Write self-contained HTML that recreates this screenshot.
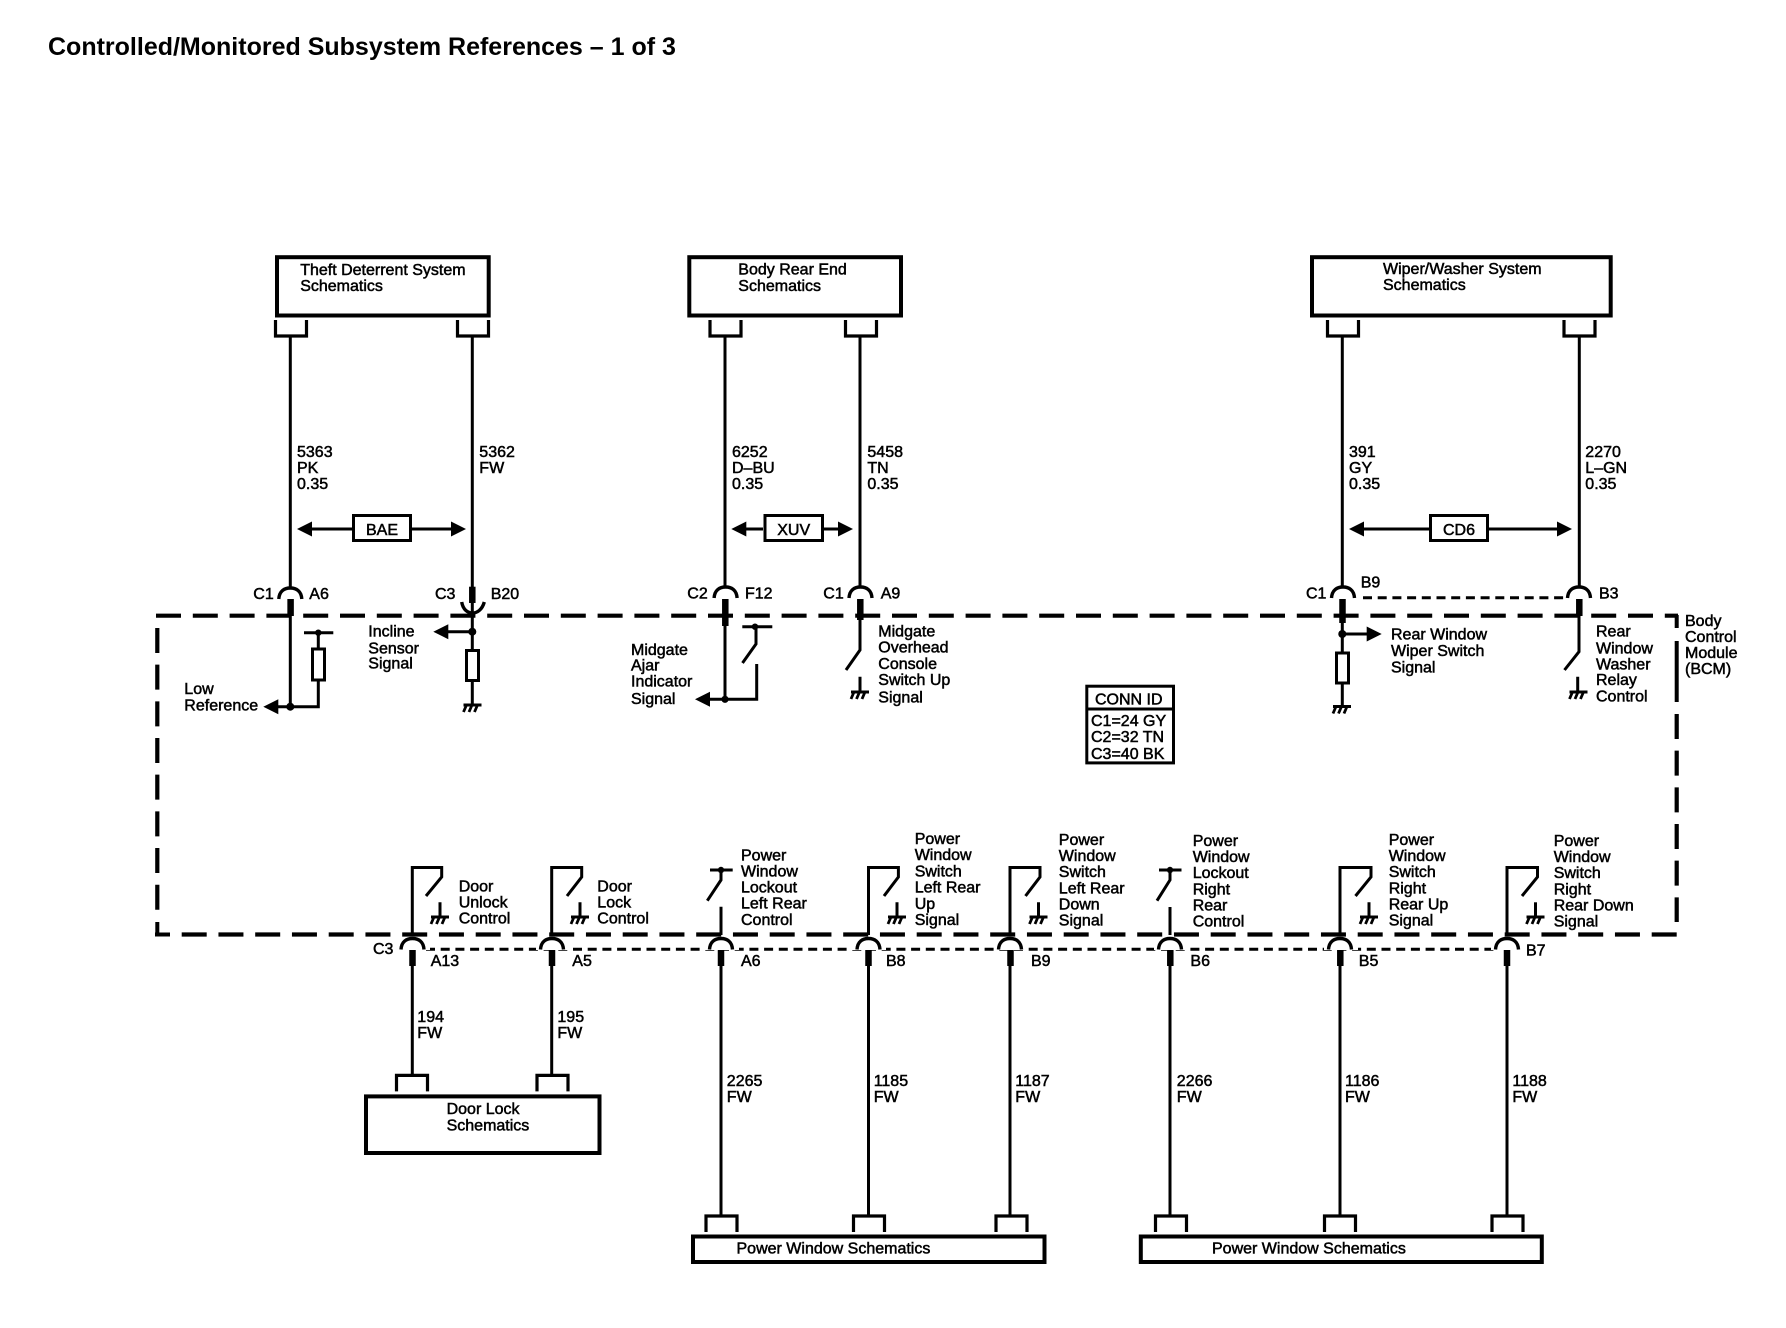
<!DOCTYPE html>
<html><head><meta charset="utf-8"><style>
html,body{margin:0;padding:0;background:#fff}
svg{display:block}
text{font-family:"Liberation Sans",sans-serif;font-size:16px;fill:#000;stroke:#000;stroke-width:.5px}
.t{font-size:25px;font-weight:bold;stroke:none}
.w{fill:none;stroke:#000;stroke-width:3}
.b{fill:none;stroke:#000;stroke-width:4}
.th{fill:none;stroke:#000;stroke-width:6.5}
.d{fill:none;stroke:#000;stroke-width:4.2;stroke-dasharray:25 11.75}
.dv{fill:none;stroke:#000;stroke-width:4.2;stroke-dasharray:25 11.67}
.p{fill:none;stroke:#000;stroke-width:3;stroke-dasharray:9 5.7}
</style></head><body>
<svg width="1786" height="1328" viewBox="0 0 1786 1328" xmlns="http://www.w3.org/2000/svg">
<defs>
<path id="arc" d="M-11.5 11 C-11 3 -6 0 0 0 C6 0 11 3 11.5 11" fill="none" stroke="#000" stroke-width="3.4"/>
<g id="gnd" fill="none" stroke="#000"><path d="M-8 0H10" stroke-width="3"/><path d="M-5 0L-8 7M0.5 0L-2.5 7M6 0L3 7" stroke-width="2.8"/></g>
<path id="al" d="M0 0L15 -7.5V7.5Z"/>
<path id="ar" d="M0 0L-15 -7.5V7.5Z"/>
<path id="ub" d="M-15 -16V0H16V-16" fill="none" stroke="#000" stroke-width="3.2"/>
<path id="db" d="M-15 16V0H16V16" fill="none" stroke="#000" stroke-width="3.2"/>
</defs>

<text class="t" x="48" y="55">Controlled/Monitored Subsystem References – 1 of 3</text>

<!-- top boxes -->
<rect class="b" x="277" y="257.2" width="211.7" height="58.3"/>
<rect class="b" x="689.3" y="257.2" width="211.7" height="58.3"/>
<rect class="b" x="1312" y="257.2" width="298.7" height="58.3"/>
<text x="300.2" y="275">Theft Deterrent System</text><text x="300.2" y="291">Schematics</text>
<text x="738.3" y="274.5">Body Rear End</text><text x="738.3" y="291">Schematics</text>
<text x="1383" y="274">Wiper/Washer System</text><text x="1383" y="290">Schematics</text>
<use href="#ub" x="290.5" y="336"/><use href="#ub" x="472.5" y="336"/>
<use href="#ub" x="725" y="336"/><use href="#ub" x="860.5" y="336"/>
<use href="#ub" x="1342.5" y="336"/><use href="#ub" x="1579" y="336"/>

<!-- top wires -->
<path class="w" d="M290.3 336V588M472.3 336V590M1342.3 336V588M1579.3 336V588"/>
<path class="w" stroke-width="3.6" d="M725 336V588M860 336V588"/>
<text x="297" y="457">5363</text><text x="297" y="473">PK</text><text x="297" y="489">0.35</text>
<text x="479.3" y="457">5362</text><text x="479.3" y="473">FW</text>
<text x="732" y="457">6252</text><text x="732" y="473">D–BU</text><text x="732" y="489">0.35</text>
<text x="867.4" y="457">5458</text><text x="867.4" y="473">TN</text><text x="867.4" y="489">0.35</text>
<text x="1349" y="457">391</text><text x="1349" y="473">GY</text><text x="1349" y="489">0.35</text>
<text x="1585.3" y="457">2270</text><text x="1585.3" y="473">L–GN</text><text x="1585.3" y="489">0.35</text>

<!-- option arrows -->
<path class="w" d="M300 529H352M412 529H455"/><use href="#al" x="297" y="529"/><use href="#ar" x="466" y="529"/>
<rect class="w" x="353.5" y="515.5" width="57" height="25"/><text x="382" y="535" text-anchor="middle">BAE</text>
<path class="w" d="M735 529H763M824 529H842"/><use href="#al" x="731.3" y="529"/><use href="#ar" x="853" y="529"/>
<rect class="w" x="765" y="515.5" width="57.5" height="25"/><text x="793.7" y="535" text-anchor="middle">XUV</text>
<path class="w" d="M1352 529H1429M1489 529H1562"/><use href="#al" x="1349" y="529"/><use href="#ar" x="1572" y="529"/>
<rect class="w" x="1430.5" y="515.5" width="57" height="25"/><text x="1459" y="535" text-anchor="middle">CD6</text>

<!-- dashed module border -->
<path class="d" style="stroke-dasharray:25 11.8" d="M156 615.7H1678"/>
<path class="d" d="M181.7 934.5H1677"/>
<path class="b" stroke-width="4.2" d="M155 934.5H170"/>
<path class="dv" d="M157.3 628V910"/>
<path class="b" stroke-width="4.2" d="M157.3 922V936"/>
<path class="b" stroke-width="4.2" d="M1676.7 615V628M1676.7 641V702"/>
<path class="dv" d="M1676.7 714V922"/>
<text x="1685" y="626">Body</text><text x="1685" y="642">Control</text><text x="1685" y="658">Module</text><text x="1685" y="674">(BCM)</text>

<!-- upper connectors -->
<use href="#arc" x="290.3" y="588"/><path class="th" d="M290.6 599V616"/>
<text x="253.3" y="599">C1</text><text x="309.3" y="599">A6</text>
<path class="th" d="M472.3 586.7V603"/>
<path d="M461.7 602C463 610 468 613 472.5 613C477 613 482 610 484.3 602" fill="none" stroke="#000" stroke-width="3.4"/>
<text x="435" y="599">C3</text><text x="490.7" y="599">B20</text>
<use href="#arc" x="725.6" y="587"/><path class="th" d="M725.3 599V626"/>
<text x="687.3" y="598.5">C2</text><text x="745" y="598.5">F12</text>
<use href="#arc" x="860.5" y="587"/><path class="th" d="M860.3 599V620"/>
<text x="823.3" y="598.5">C1</text><text x="880.7" y="598.5">A9</text>
<use href="#arc" x="1343" y="587"/><path class="th" d="M1342.5 599V623"/>
<text x="1306" y="598.5">C1</text><text x="1360.7" y="587.5">B9</text>
<use href="#arc" x="1579" y="587"/><path class="th" d="M1579.3 599V616"/>
<text x="1599" y="598.5">B3</text>
<path class="p" d="M1363 597.7H1567"/>

<!-- Low reference / resistor -->
<path class="w" d="M290.3 615V706.7M275 706.7H318.3V680M318.3 648V632.7M304 632.7H333.3"/>
<circle cx="290.3" cy="706.7" r="4"/><circle cx="318.3" cy="632.7" r="3.2"/>
<use href="#al" x="263.3" y="706.7"/>
<rect class="w" x="312.5" y="649" width="12" height="31"/>
<text x="184.3" y="694">Low</text><text x="184.3" y="710.7">Reference</text>

<!-- Incline -->
<path class="w" d="M472.3 603V650M472.3 681V704M445 631.7H472.3"/>
<circle cx="472.3" cy="631.7" r="4"/>
<use href="#al" x="433.3" y="631.7"/>
<rect class="w" x="466.5" y="650.5" width="12" height="30"/>
<use href="#gnd" x="471.5" y="705"/>
<text x="368.3" y="636.7">Incline</text><text x="368.3" y="653.3">Sensor</text><text x="368.3" y="668.3">Signal</text>

<!-- Midgate ajar -->
<path class="w" stroke-width="4" d="M725 620V699.3"/>
<path class="w" d="M705 699.3H756.7V664M742.3 626.7H772.3M756 626.7V644L742.5 663"/>
<circle cx="725" cy="699.3" r="3.6"/><circle cx="755" cy="626.7" r="3.2"/>
<use href="#al" x="695" y="699.3"/>
<text x="631" y="655">Midgate</text><text x="631" y="670.7">Ajar</text><text x="631" y="686.7">Indicator</text><text x="631" y="704">Signal</text>

<!-- Midgate overhead -->
<path class="w" d="M860 615V650L846 670M860 676.7V693"/>
<use href="#gnd" x="859" y="692"/>
<text x="878.3" y="636.7">Midgate</text><text x="878.3" y="652.7">Overhead</text><text x="878.3" y="669">Console</text><text x="878.3" y="685">Switch Up</text><text x="878.3" y="702.3">Signal</text>

<!-- Wiper -->
<path class="w" stroke-width="3.6" d="M1342.3 620V652M1342.3 683V706M1342.3 634H1371"/>
<circle cx="1342.3" cy="634" r="4"/>
<use href="#ar" x="1381.7" y="634"/>
<rect class="w" x="1336.5" y="653" width="12" height="30"/>
<use href="#gnd" x="1341" y="706.5"/>
<text x="1391" y="639.3">Rear Window</text><text x="1391" y="656">Wiper Switch</text><text x="1391" y="672.7">Signal</text>

<!-- Washer -->
<path class="w" d="M1579 615V651.7L1564.5 670M1577.7 676.7V692.7"/>
<use href="#gnd" x="1577.5" y="692"/>
<text x="1596" y="636.7">Rear</text><text x="1596" y="653.3">Window</text><text x="1596" y="669.3">Washer</text><text x="1596" y="685">Relay</text><text x="1596" y="701.7">Control</text>

<!-- CONN ID -->
<rect class="w" x="1086.8" y="686.2" width="86.7" height="76.7"/>
<path class="w" d="M1086 709H1174"/>
<text x="1095" y="704.7">CONN ID</text>
<text x="1091" y="726">C1=24 GY</text><text x="1091" y="742.2">C2=32 TN</text><text x="1091" y="758.8">C3=40 BK</text>

<!-- lower dotted line -->
<path class="p" d="M426 949.3H1495"/>

<!-- A13 -->
<path class="w" d="M412.3 935V867.5H441.7V877L426 896M440 902.3V918"/>
<use href="#gnd" x="439" y="917"/>
<text x="458.7" y="891.7">Door</text><text x="458.7" y="907.3">Unlock</text><text x="458.7" y="923.3">Control</text>
<rect x="396" y="942" width="34" height="8" fill="#fff"/>
<use href="#arc" x="412.5" y="938.5"/><path class="th" d="M412.5 950V966"/>
<text x="430.7" y="966">A13</text><text x="373" y="954">C3</text>
<path class="w" d="M412.3 966V1076"/>
<text x="417.3" y="1022">194</text><text x="417.3" y="1038">FW</text>
<use href="#db" x="411.5" y="1075.4"/>

<!-- A5 -->
<path class="w" d="M551.7 935V867.5H581.7V877L567 896M580 902.3V918"/>
<use href="#gnd" x="579" y="917"/>
<text x="597.3" y="891.7">Door</text><text x="597.3" y="907.3">Lock</text><text x="597.3" y="923.3">Control</text>
<rect x="536" y="942" width="34" height="8" fill="#fff"/>
<use href="#arc" x="552" y="938.5"/><path class="th" d="M552 950V966"/>
<text x="572.3" y="966">A5</text>
<path class="w" d="M551.7 966V1076"/>
<text x="557.4" y="1022">195</text><text x="557.4" y="1038">FW</text>
<use href="#db" x="552" y="1075.4"/>

<!-- door lock box -->
<rect class="b" x="366" y="1096.4" width="233.5" height="56.6"/>
<text x="446.6" y="1114.2">Door Lock</text><text x="446.6" y="1130.5">Schematics</text>

<!-- A6 lower -->
<path class="w" d="M721 935V906.7M710 870H732.7M721 870V880L707.3 900.7"/>
<circle cx="721" cy="870" r="3.2"/>
<text x="741" y="860.7">Power</text><text x="741" y="876.7">Window</text><text x="741" y="892.7">Lockout</text><text x="741" y="908.7">Left Rear</text><text x="741" y="925">Control</text>
<rect x="705" y="942" width="34" height="8" fill="#fff"/>
<use href="#arc" x="721" y="938.5"/><path class="th" d="M721 950V966"/>
<text x="741" y="966">A6</text>
<path class="w" stroke-width="3.6" d="M721 966V1216"/>
<text x="726.8" y="1086">2265</text><text x="726.8" y="1102">FW</text>
<use href="#db" x="721" y="1216"/>

<!-- B8 -->
<path class="w" d="M868.5 935V867.5H898.4V877L884 896M897 902.3V918"/>
<use href="#gnd" x="896" y="917"/>
<text x="914.7" y="844">Power</text><text x="914.7" y="860">Window</text><text x="914.7" y="876.5">Switch</text><text x="914.7" y="892.7">Left Rear</text><text x="914.7" y="909">Up</text><text x="914.7" y="925">Signal</text>
<rect x="852" y="942" width="34" height="8" fill="#fff"/>
<use href="#arc" x="868.5" y="938.5"/><path class="th" d="M868.5 950V966"/>
<text x="886" y="966">B8</text>
<path class="w" stroke-width="3.6" d="M868.5 966V1216"/>
<text x="873.7" y="1086">1185</text><text x="873.7" y="1102">FW</text>
<use href="#db" x="868.5" y="1216"/>

<!-- B9 -->
<path class="w" d="M1010 935V867.5H1040V877L1025.5 896M1038.5 902.3V918"/>
<use href="#gnd" x="1037.5" y="917"/>
<text x="1058.8" y="845">Power</text><text x="1058.8" y="861">Window</text><text x="1058.8" y="877">Switch</text><text x="1058.8" y="893.5">Left Rear</text><text x="1058.8" y="909.5">Down</text><text x="1058.8" y="925.5">Signal</text>
<rect x="994" y="942" width="34" height="8" fill="#fff"/>
<use href="#arc" x="1010" y="938.5"/><path class="th" d="M1010.5 950V966"/>
<text x="1031" y="966">B9</text>
<path class="w" d="M1010 966V1216"/>
<text x="1015.3" y="1086">1187</text><text x="1015.3" y="1102">FW</text>
<use href="#db" x="1011" y="1216"/>

<!-- B6 -->
<path class="w" d="M1170 935V907M1159 870H1181.5M1170 870V880L1157 900.7"/>
<circle cx="1170" cy="870" r="3.2"/>
<text x="1192.7" y="846">Power</text><text x="1192.7" y="862">Window</text><text x="1192.7" y="878">Lockout</text><text x="1192.7" y="894.5">Right</text><text x="1192.7" y="910.5">Rear</text><text x="1192.7" y="926.7">Control</text>
<rect x="1154" y="942" width="34" height="8" fill="#fff"/>
<use href="#arc" x="1170" y="938.5"/><path class="th" d="M1170.3 950V966"/>
<text x="1190.4" y="966">B6</text>
<path class="w" d="M1170 966V1216"/>
<text x="1176.8" y="1086">2266</text><text x="1176.8" y="1102">FW</text>
<use href="#db" x="1170.5" y="1216"/>

<!-- B5 -->
<path class="w" d="M1340 935V867.5H1371V877L1355.5 896M1369 902.3V918"/>
<use href="#gnd" x="1368" y="917"/>
<text x="1388.7" y="845">Power</text><text x="1388.7" y="861">Window</text><text x="1388.7" y="877">Switch</text><text x="1388.7" y="893.5">Right</text><text x="1388.7" y="909.5">Rear Up</text><text x="1388.7" y="925.5">Signal</text>
<rect x="1324" y="942" width="34" height="8" fill="#fff"/>
<use href="#arc" x="1340" y="938.5"/><path class="th" d="M1340.3 950V966"/>
<text x="1358.8" y="966">B5</text>
<path class="w" stroke-width="3.6" d="M1340 966V1216"/>
<text x="1345" y="1086">1186</text><text x="1345" y="1102">FW</text>
<use href="#db" x="1339.5" y="1216"/>

<!-- B7 -->
<path class="w" stroke-width="3.6" d="M1507 935V867.5H1537.5V877L1522 896"/>
<path class="w" d="M1535.5 902.3V918"/>
<use href="#gnd" x="1534.5" y="917"/>
<text x="1553.7" y="846">Power</text><text x="1553.7" y="862">Window</text><text x="1553.7" y="878">Switch</text><text x="1553.7" y="894.5">Right</text><text x="1553.7" y="910.5">Rear Down</text><text x="1553.7" y="926.7">Signal</text>
<rect x="1491" y="942" width="34" height="8" fill="#fff"/>
<use href="#arc" x="1507" y="938.5"/><path class="th" d="M1507 950V966"/>
<text x="1526" y="955.5">B7</text>
<path class="w" stroke-width="3.6" d="M1507 966V1216"/>
<text x="1512.4" y="1086">1188</text><text x="1512.4" y="1102">FW</text>
<use href="#db" x="1507" y="1216"/>

<!-- power window boxes -->
<rect class="b" x="693" y="1236.5" width="351.5" height="25.5"/>
<rect class="b" x="1140.8" y="1236.5" width="401" height="25.5"/>
<text x="736.5" y="1253.5">Power Window Schematics</text>
<text x="1212" y="1253.5">Power Window Schematics</text>
</svg>
</body></html>
